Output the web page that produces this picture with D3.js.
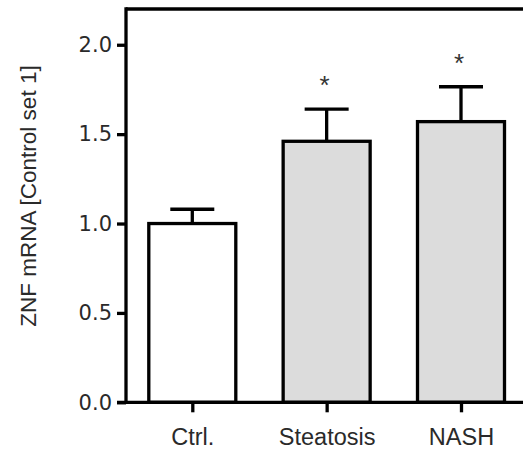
<!DOCTYPE html>
<html>
<head>
<meta charset="utf-8">
<script src="https://cdn.jsdelivr.net/npm/d3@7"></script>
<style>
	body { margin: 0; background: #fff; }
	svg { display: block; }
</style>
</head>
<body>
<div id="chart"></div>
<script>
// values
const groups = ['Ctrl.', 'Steatosis', 'NASH'];
const means = [1.0, 1.46, 1.57];
const errors = [0.08, 0.18, 0.195];
const signif = ['', '*', '*'];
const fills = ['#ffffff', '#dcdcdc', '#dcdcdc'];
const yTicks = [0, 0.5, 1.0, 1.5, 2.0];

const width = 523, height = 449;
const lw = 3.3;

const svg = d3.select('#chart').append('svg')
	.attr('width', width)
	.attr('height', height);

const xScale = d3.scalePoint().domain(groups).range([192.3, 461]);
const yScale = d3.scaleLinear().domain([0, 2.2]).range([402.3, 9]);
const barWidth = 87;

const data = groups.map((g, i) => ({g: g, v: means[i], e: errors[i], s: signif[i], fill: fills[i]}));

// bars
svg.selectAll('.bar')
	.data(data)
	.enter().append('rect')
	.attr('class', 'bar')
	.attr('x', d => xScale(d.g) - barWidth / 2)
	.attr('y', d => yScale(d.v))
	.attr('width', barWidth)
	.attr('height', d => yScale(0) - yScale(d.v))
	.attr('fill', d => d.fill)
	.attr('stroke', '#000')
	.attr('stroke-width', lw);

// error bars (upper only)
svg.selectAll('.err')
	.data(data)
	.enter().append('line')
	.attr('x1', d => xScale(d.g))
	.attr('x2', d => xScale(d.g))
	.attr('y1', d => yScale(d.v))
	.attr('y2', d => yScale(d.v + d.e))
	.attr('stroke', '#000')
	.attr('stroke-width', lw);

svg.selectAll('.cap')
	.data(data)
	.enter().append('line')
	.attr('x1', d => xScale(d.g) - 22)
	.attr('x2', d => xScale(d.g) + 22)
	.attr('y1', d => yScale(d.v + d.e))
	.attr('y2', d => yScale(d.v + d.e))
	.attr('stroke', '#000')
	.attr('stroke-width', lw);

// asterisks
svg.selectAll('.sig')
	.data(data.filter(d => d.s))
	.enter().append('text')
	.attr('x', d => xScale(d.g) - 2)
	.attr('y', d => yScale(d.v + d.e) - 15)
	.attr('text-anchor', 'middle')
	.attr('font-family', 'Liberation Sans')
	.attr('font-size', 26)
	.attr('fill', '#333')
	.text(d => d.s);

// frame: top line
svg.append('line')
	.attr('x1', 126).attr('x2', width + 5)
	.attr('y1', yScale(2.2)).attr('y2', yScale(2.2))
	.attr('stroke', '#000').attr('stroke-width', lw);

// y axis
const yAxis = svg.append('g')
	.attr('transform', 'translate(126,0)')
	.call(d3.axisLeft(yScale).tickValues(yTicks).tickFormat(d3.format('.1f')).tickSize(9).tickPadding(5).tickSizeOuter(0));
yAxis.select('.domain')
	.attr('stroke', '#000').attr('stroke-width', lw)
	.attr('d', 'M0,' + (yScale(0) + lw / 2) + 'V' + (yScale(2.2) - lw / 2));
yAxis.selectAll('.tick line').attr('stroke', '#000').attr('stroke-width', lw);
yAxis.selectAll('.tick text')
	.attr('font-family', 'DejaVu Sans')
	.attr('font-size', 21)
	.attr('fill', '#2a2a2a');

// x axis
const xAxis = svg.append('g')
	.attr('transform', 'translate(0,' + yScale(0) + ')')
	.call(d3.axisBottom(xScale).tickSize(10).tickPadding(16).tickSizeOuter(0));
xAxis.select('.domain')
	.attr('stroke', '#000').attr('stroke-width', lw)
	.attr('d', 'M117,0H' + (width + 5));
xAxis.selectAll('.tick line').attr('stroke', '#000').attr('stroke-width', lw);
xAxis.selectAll('.tick text')
	.attr('font-family', 'Liberation Sans')
	.attr('font-size', 23.5)
	.attr('fill', '#2a2a2a');

// y label
svg.append('text')
	.attr('transform', 'translate(36,' + 196 + ') rotate(-90)')
	.attr('text-anchor', 'middle')
	.attr('font-family', 'Liberation Sans')
	.attr('font-size', 22.5)
	.attr('fill', '#2a2a2a')
	.text('ZNF mRNA [Control set 1]');
</script>
</body>
</html>
